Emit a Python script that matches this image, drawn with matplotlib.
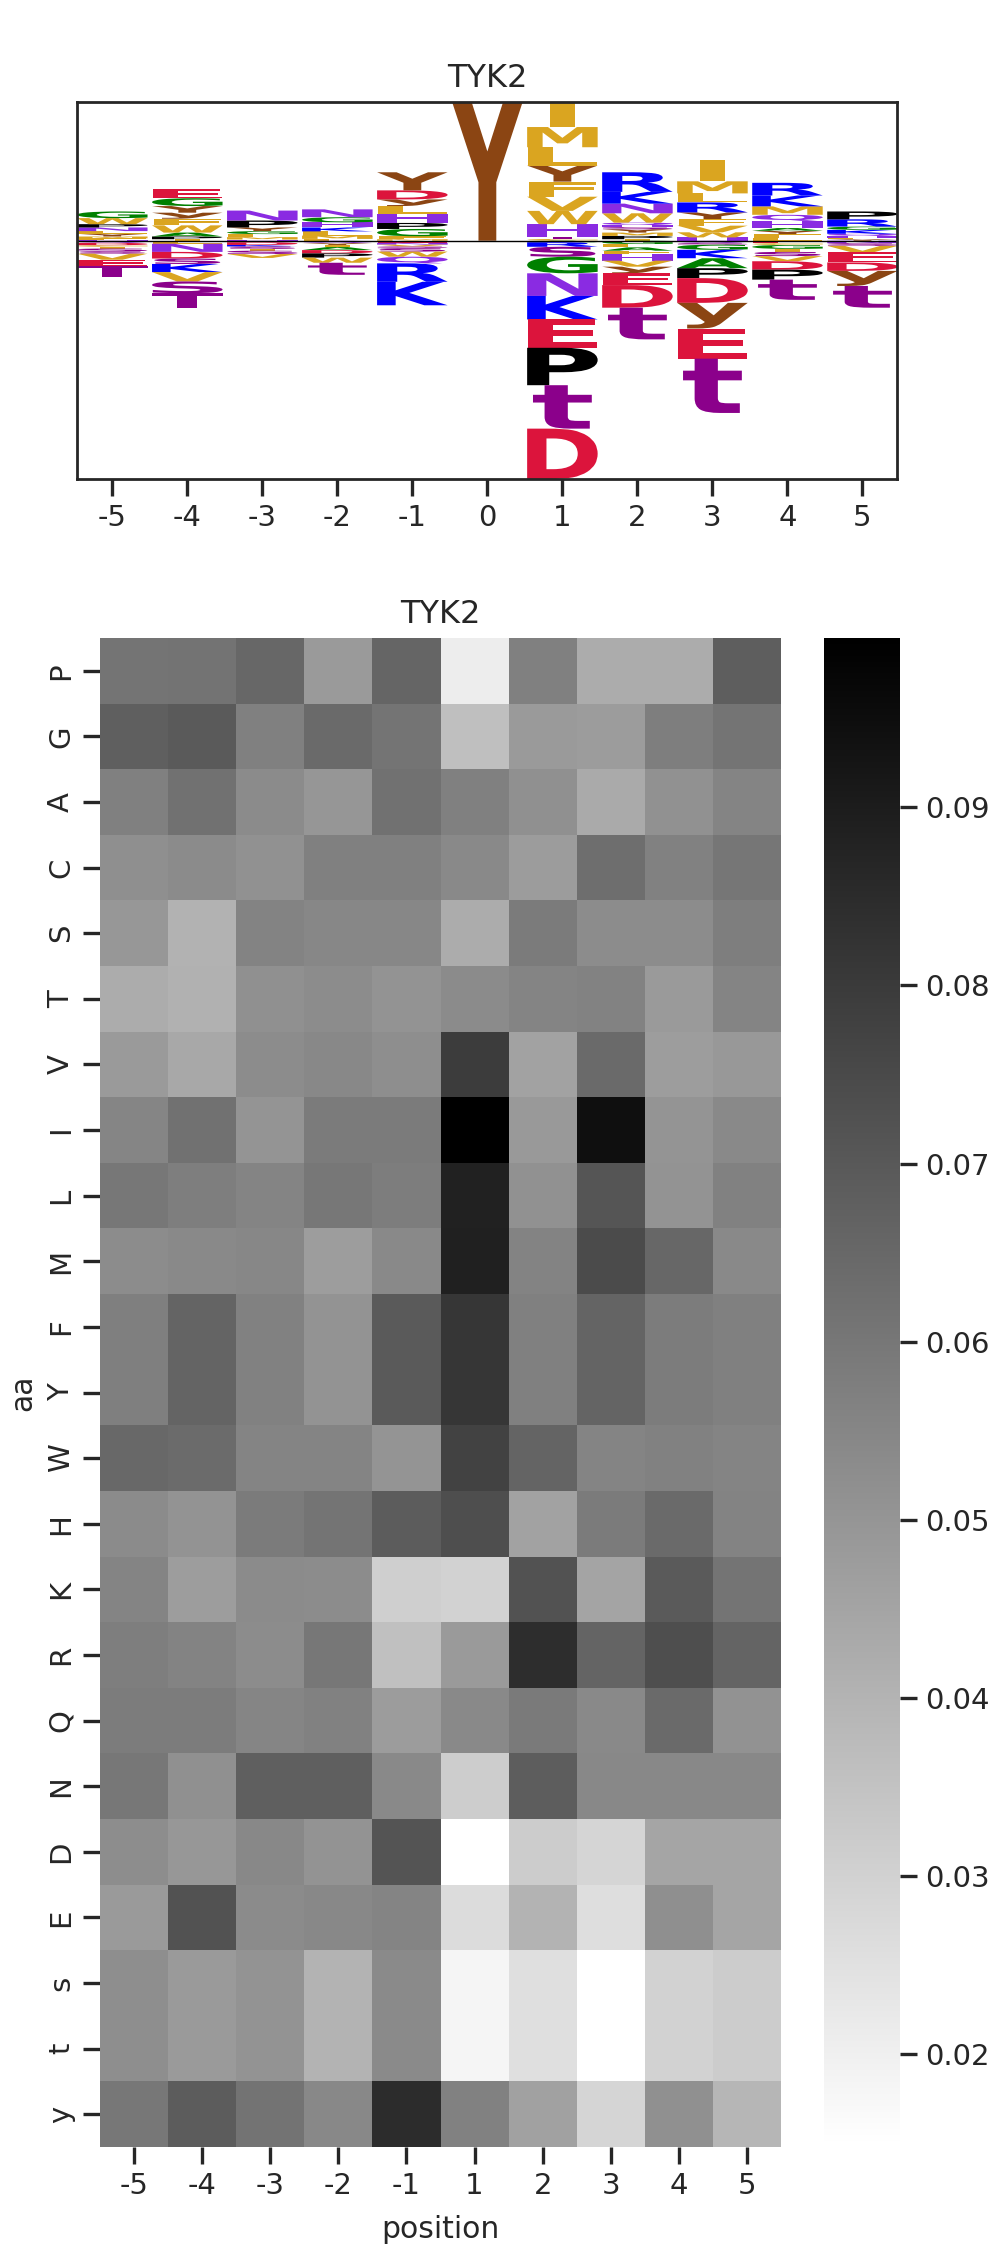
import numpy as np
import pandas as pd
import matplotlib
matplotlib.use("Agg")
import matplotlib.pyplot as plt
import seaborn as sns
from matplotlib.textpath import TextPath
from matplotlib.patches import PathPatch
from matplotlib.font_manager import FontProperties
import matplotlib.transforms as mtransforms

kinase = "TYK2"

# heatmap data: rows = residues, columns = positions
positions = [-5, -4, -3, -2, -1, 1, 2, 3, 4, 5]
aa = ["P", "G", "A", "C", "S", "T", "V", "I", "L", "M", "F", "Y",
      "W", "H", "K", "R", "Q", "N", "D", "E", "s", "t", "y"]
freq = [
    [.0611, .0614, .0654, .0484, .0658, .0210, .0571, .0424, .0424, .0681],  # P
    [.0678, .0694, .0571, .0641, .0611, .0360, .0484, .0477, .0578, .0611],  # G
    [.0571, .0618, .0534, .0497, .0618, .0571, .0517, .0431, .0514, .0557],  # A
    [.0521, .0534, .0514, .0571, .0571, .0541, .0477, .0628, .0567, .0604],  # C
    [.0494, .0404, .0561, .0547, .0547, .0424, .0588, .0531, .0531, .0578],  # S
    [.0424, .0407, .0517, .0531, .0507, .0534, .0557, .0564, .0484, .0557],  # T
    [.0484, .0437, .0531, .0544, .0524, .0795, .0457, .0644, .0474, .0491],  # V
    [.0554, .0618, .0504, .0588, .0588, .0995, .0487, .0945, .0504, .0541],  # I
    [.0601, .0578, .0557, .0598, .0581, .0885, .0514, .0711, .0507, .0567],  # L
    [.0531, .0541, .0547, .0474, .0541, .0888, .0561, .0745, .0651, .0541],  # M
    [.0574, .0661, .0567, .0507, .0694, .0815, .0571, .0664, .0584, .0571],  # F
    [.0574, .0661, .0567, .0507, .0694, .0815, .0571, .0664, .0584, .0571],  # Y
    [.0648, .0638, .0557, .0557, .0504, .0775, .0664, .0557, .0567, .0557],  # W
    [.0534, .0507, .0588, .0611, .0688, .0734, .0457, .0588, .0644, .0561],  # H
    [.0557, .0474, .0534, .0531, .0310, .0297, .0721, .0451, .0694, .0611],  # K
    [.0578, .0561, .0531, .0601, .0357, .0484, .0845, .0664, .0734, .0664],  # R
    [.0584, .0584, .0554, .0567, .0477, .0541, .0591, .0541, .0644, .0511],  # Q
    [.0601, .0517, .0678, .0678, .0541, .0314, .0684, .0544, .0544, .0544],  # N
    [.0527, .0494, .0544, .0507, .0714, .0150, .0320, .0290, .0447, .0447],  # D
    [.0484, .0721, .0534, .0544, .0557, .0267, .0400, .0260, .0521, .0447],  # E
    [.0524, .0484, .0507, .0400, .0537, .0183, .0254, .0148, .0300, .0317],  # s
    [.0524, .0484, .0507, .0400, .0537, .0183, .0254, .0148, .0300, .0317],  # t
    [.0598, .0688, .0614, .0544, .0848, .0567, .0461, .0290, .0517, .0390],  # y
]

# logo stacks, letters listed from the baseline outwards
logo_pos = [-5, -4, -3, -2, -1, 0, 1, 2, 3, 4, 5]
up_letters = ["HFMYLNPWG", "IPAWFyYGE", "HMLGYPN", "FMLKHGN", "MFGPHLyDY", "Y",
              "CTHWVFYLMI", "IPMYSHQWNKR", "HWVFYRLMI", "LFYAHQMKR", "YLHQKGRP"]
up_heights = [
    [.03, .05, .06, .09, .09, .12, .11, .20, .22],
    [.05, .09, .13, .24, .22, .20, .22, .26, .29],
    [.04, .08, .10, .10, .12, .23, .33],
    [.06, .11, .14, .13, .17, .17, .26],
    [.05, .10, .24, .20, .30, .26, .22, .30, .60],
    [4.60],
    [.06, .07, .42, .44, .47, .50, .53, .61, .67, .83],
    [.05, .11, .11, .11, .07, .07, .08, .31, .32, .39, .65],
    [.11, .17, .22, .22, .22, .33, .30, .40, .70],
    [.09, .13, .11, .09, .24, .20, .28, .36, .42],
    [.05, .04, .07, .07, .13, .11, .24, .26],
]
dn_letters = ["QDCISsVET", "LNDsKVST", "QDKsISV", "QYIADPWt", "ENVSsWQRK", "",
              "ARsGNKEPtD", "GLAFHVyEDt", "QSGKAPDyEt", "ECGIsVDPt", "NSVEDyt"]
dn_heights = [
    [.07, .08, .05, .06, .09, .08, .20, .22, .36],
    [.10, .27, .22, .18, .27, .31, .39, .50],
    [.05, .09, .05, .08, .06, .11, .13],
    [.08, .06, .07, .10, .11, .14, .17, .40],
    [.07, .06, .06, .06, .11, .17, .22, .61, .78],
    [],
    [.05, .15, .33, .55, .75, .78, .94, 1.24, 1.44, 1.67],
    [.11, .11, .11, .11, .22, .20, .22, .39, .75, 1.05],
    [.07, .06, .17, .28, .33, .33, .82, .85, 1.00, 1.80],
    [.08, .06, .13, .10, .14, .17, .28, .33, .67],
    [.08, .09, .22, .33, .28, .50, .72],
]

colors = {}
for c in "DE":
    colors[c] = "crimson"
for c in "KR":
    colors[c] = "blue"
for c in "HNQ":
    colors[c] = "blueviolet"
for c in "STst":
    colors[c] = "darkmagenta"
for c in "Yy":
    colors[c] = "saddlebrown"
for c in "GA":
    colors[c] = "green"
for c in "P":
    colors[c] = "black"
for c in "CILMFVW":
    colors[c] = "goldenrod"

sns.set_theme(style="ticks")
plt.rcParams["font.family"] = ["DejaVu Sans"]
ink = "#262626"
tick_fs = 21
label_fs = 21.5
title_fs = 23

fig = plt.figure(figsize=(9.93, 22.47), dpi=100)
W, H = 993.0, 2247.0

fp = FontProperties(family="DejaVu Sans", weight="bold")
full_w = 0.53  # glyphs narrower than this (in em) are not stretched to full width


def draw_glyph(ax, ch, x, y0, h, width=0.94):
    tp = TextPath((0, 0), ch, size=1, prop=fp)
    bb = tp.get_extents()
    w = width * min(1.0, bb.width / full_w)
    tr = (mtransforms.Affine2D()
          .translate(-bb.x0, -bb.y0)
          .scale(w / bb.width, h / bb.height)
          .translate(x - w / 2, y0))
    ax.add_patch(PathPatch(tr.transform_path(tp), fc=colors[ch], ec="none", lw=0))


# ---- sequence logo ----
ax1 = fig.add_axes([77 / W, 1 - 479 / H, 820 / W, 377 / H])
top, bot = 0, 0
for p, ul, uh, dl, dh in zip(logo_pos, up_letters, up_heights, dn_letters, dn_heights):
    y = 0.0
    for ch, h in zip(ul, uh):
        draw_glyph(ax1, ch, p, y, h)
        y += h
    top = max(top, y)
    y = 0.0
    for ch, h in zip(dl, dh):
        y -= h
        draw_glyph(ax1, ch, p, y, h)
    bot = min(bot, y)
ax1.axhline(0, color="black", lw=1)
ax1.set_xlim(-5.47, 5.46)
ax1.set_ylim(bot, top)
ax1.set_xticks(logo_pos)
ax1.set_xticklabels([str(p) for p in logo_pos])
ax1.set_yticks([])
for s in ax1.spines.values():
    s.set_visible(True)
    s.set_linewidth(2)
    s.set_color(ink)
ax1.tick_params(axis="x", length=12, width=2.4, labelsize=tick_fs, colors=ink, pad=6)
ax1.set_title(kinase, fontsize=title_fs, color=ink, pad=11)

# ---- heatmap ----
ax2 = fig.add_axes([100 / W, 1 - 2147 / H, 681 / W, 1509 / H])
cax = fig.add_axes([824 / W, 1 - 2147 / H, 76 / W, 1509 / H])
df = pd.DataFrame(freq, index=aa, columns=positions)
sns.heatmap(df, ax=ax2, cbar_ax=cax, cmap="gray_r")
ax2.set_title(kinase, fontsize=title_fs, color=ink, pad=11)
ax2.set_xlabel("position", fontsize=label_fs, color=ink, labelpad=11)
ax2.set_ylabel("aa", fontsize=label_fs, color=ink, labelpad=7)
ax2.tick_params(axis="both", length=12, width=2.4, labelsize=tick_fs, colors=ink, pad=6)
cax.tick_params(length=12, width=2.4, labelsize=tick_fs, colors=ink, pad=6)

fig.savefig("out.png", dpi=100)
